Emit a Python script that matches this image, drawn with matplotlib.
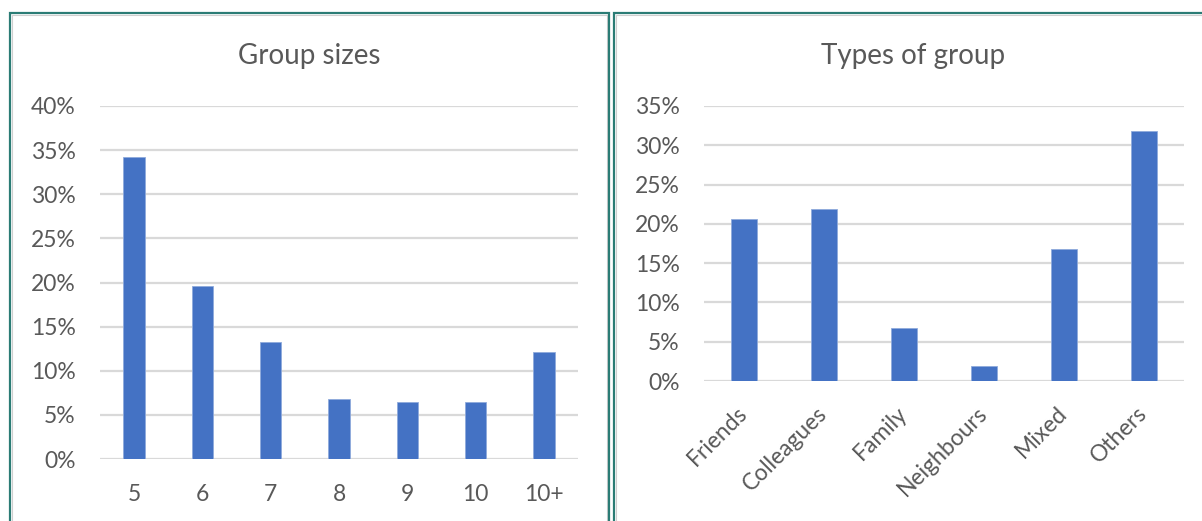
import matplotlib
matplotlib.use("Agg")
import matplotlib.pyplot as plt
from matplotlib.patches import Rectangle
from matplotlib.ticker import PercentFormatter, MultipleLocator

# ---- data ----
size_categories = ["5", "6", "7", "8", "9", "10", "10+"]
size_values = [34.2, 19.6, 13.3, 6.8, 6.5, 6.5, 12.1]

type_categories = ["Friends", "Colleagues", "Family", "Neighbours", "Mixed", "Others"]
type_values = [20.6, 21.9, 6.8, 1.9, 16.8, 31.8]

BAR = "#4472C4"
GRID = "#D9D9D9"
TXT = "#595959"
TEAL = "#2B7C75"

plt.rcParams['font.family'] = ['Lato', 'DejaVu Sans']

W, H = 1202, 521
fig = plt.figure(figsize=(W / 100, H / 100), dpi=100)
fig.patch.set_facecolor("white")

def fx(px):
    return px / W

def fy(py):
    return 1 - py / H

# panel borders
for (x0, x1) in [(10, 609), (614, 1213)]:
    y0, y1 = 13, 540
    fig.add_artist(Rectangle((fx(x0 + 2), fy(y1)), fx(x1 - x0 - 4), fy(y0 + 2) - fy(y1),
                             transform=fig.transFigure, fill=False, edgecolor="#CFCFCF",
                             linewidth=0.8, clip_on=False))
    fig.add_artist(Rectangle((fx(x0), fy(y1)), fx(x1 - x0), fy(y0) - fy(y1),
                             transform=fig.transFigure, fill=False, edgecolor=TEAL,
                             linewidth=1.6, clip_on=False))

def style(ax, ymax, step):
    ax.set_ylim(0, ymax)
    ax.yaxis.set_major_locator(MultipleLocator(step))
    ax.yaxis.set_major_formatter(PercentFormatter(decimals=0))
    ax.grid(axis="y", color=GRID, linewidth=1.6)
    ax.set_axisbelow(True)
    for s in ax.spines.values():
        s.set_visible(False)
    ax.tick_params(axis="both", length=0, colors=TXT, labelsize=16.5)
    ax.tick_params(axis="y", pad=17.5)

# left chart
axL = fig.add_axes([fx(100), fy(459), fx(578 - 100), fy(106) - fy(459)])
xL = range(len(size_categories))
axL.bar(xL, size_values, width=0.313, color=BAR, edgecolor="#8FAADC", linewidth=0.6)
style(axL, 40, 5)
axL.set_xlim(-0.5, len(size_categories) - 0.5)
axL.set_xticks(list(xL))
axL.set_xticklabels(size_categories)
axL.tick_params(axis="x", pad=18)
fig.text(fx(309.5), fy(56), "Group sizes", ha="center", va="center", fontsize=20, color=TXT)

# right chart
axR = fig.add_axes([fx(704), fy(381), fx(1184 - 704), fy(106) - fy(381)])
xR = range(len(type_categories))
axR.bar(xR, type_values, width=0.313, color=BAR, edgecolor="#8FAADC", linewidth=0.6)
style(axR, 35, 5)
axR.set_xlim(-0.5, len(type_categories) - 0.5)
axR.set_xticks(list(xR))
axR.set_xticklabels(type_categories, rotation=45, ha="right", va="center",
                    rotation_mode="anchor")
axR.tick_params(axis="x", pad=21)
fig.text(fx(913.5), fy(56), "Types of group", ha="center", va="center", fontsize=20, color=TXT)

fig.savefig("out.png", dpi=100, facecolor="white")
